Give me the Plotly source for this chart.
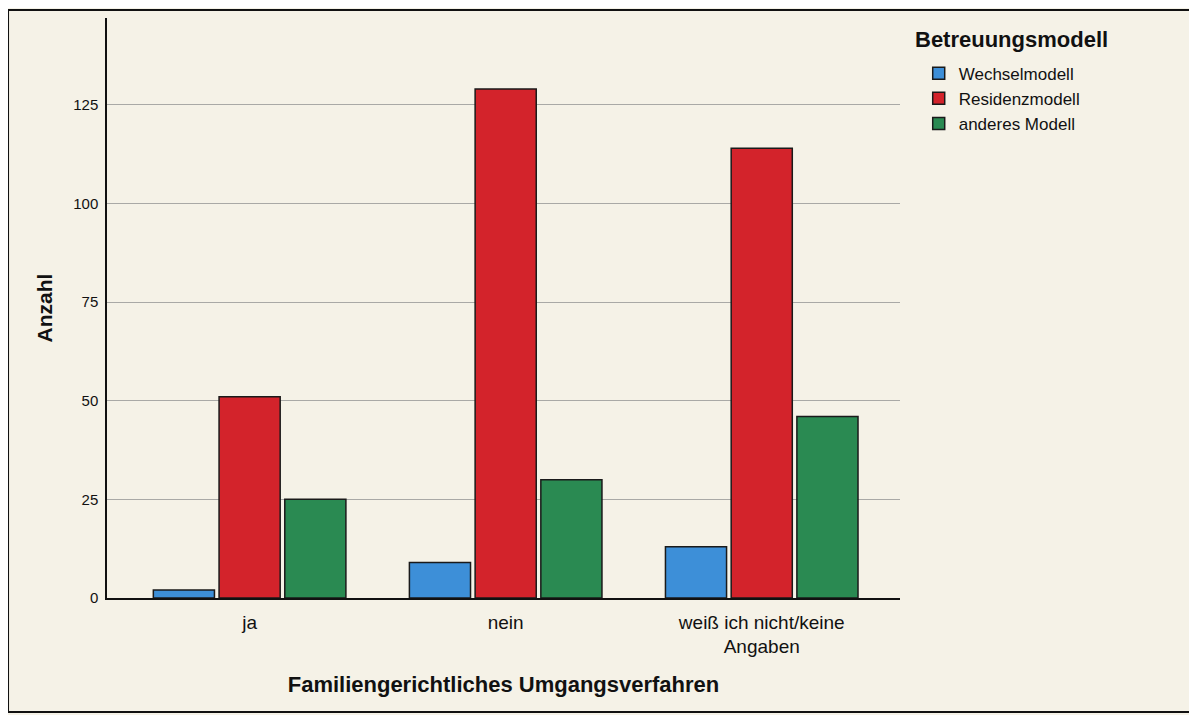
import plotly.graph_objects as go

categories = ["ja", "nein", "weiß ich nicht/keine<br>Angaben"]
series_names = ["Wechselmodell", "Residenzmodell", "anderes Modell"]
wechsel = [2, 9, 13]
residenz = [51, 129, 114]
anderes = [25, 30, 46]
colors = ["#3d8fd8", "#d3232b", "#2a8a52"]
y_ticks = [0, 25, 50, 75, 100, 125]

fig = go.Figure()
for name, vals, col in zip(series_names, [wechsel, residenz, anderes], colors):
    fig.add_trace(go.Bar(
        x=categories, y=vals, name=name,
        marker=dict(color=col, line=dict(color="#1a1a1a", width=1.5)),
    ))

bg = "#f5f2e7"
fig.update_layout(
    width=1189, height=707,
    paper_bgcolor=bg, plot_bgcolor=bg,
    margin=dict(l=99, r=297, t=10, b=117),
    barmode="group", bargap=0.23, bargroupgap=0.07,
    font=dict(family="Liberation Sans, Arial, sans-serif", color="#111"),
    showlegend=True,
    legend=dict(
        x=1.0236, y=0.935, xanchor="left", yanchor="top",
        font=dict(size=17), bgcolor="rgba(0,0,0,0)",
        tracegroupgap=0, itemwidth=30,
    ),
    annotations=[dict(
        text="<b>Betreuungsmodell</b>", xref="paper", yref="paper",
        x=1.016, y=0.938, xanchor="left", yanchor="bottom",
        showarrow=False, font=dict(size=22),
    )],
    xaxis=dict(
        range=[-0.557, 2.54],
        showline=True, linecolor="#111", linewidth=1.5,
        tickfont=dict(size=19), ticks="outside", ticklen=6, tickcolor=bg,
        title=dict(text="<b>Familiengerichtliches Umgangsverfahren</b>",
                   font=dict(size=22), standoff=20),
    ),
    yaxis=dict(
        range=[0, 147],
        tickvals=y_ticks,
        showline=True, linecolor="#111", linewidth=1.5,
        showgrid=True, gridcolor="#a9a9a6", gridwidth=1,
        zeroline=False,
        tickfont=dict(size=15), ticks="outside", ticklen=4, tickcolor=bg,
        title=dict(text="<b>Anzahl</b>", font=dict(size=21), standoff=15),
    ),
    shapes=[dict(
        type="rect", xref="paper", yref="paper",
        x0=-0.1248, x1=1.3707, y0=-0.1966, y1=1.0138,
        line=dict(color="#111", width=2), fillcolor="rgba(0,0,0,0)",
        layer="below",
    )],
)

fig.write_html("out.html")
